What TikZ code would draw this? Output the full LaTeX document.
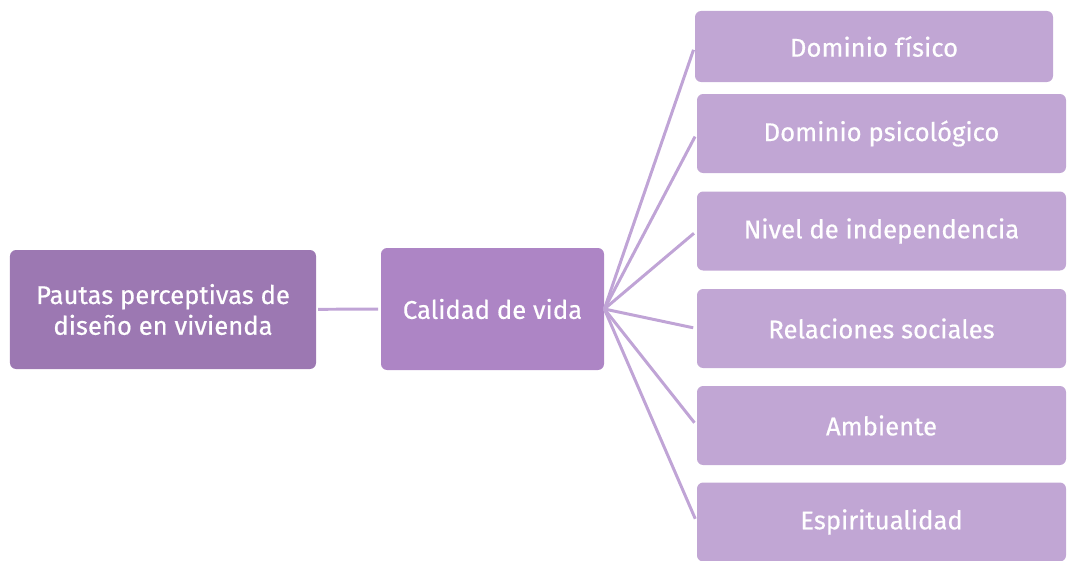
\documentclass[tikz,border=0pt]{standalone}
\usepackage{fontspec}
\setmainfont{Fira Sans}[FakeBold=0.5]
\definecolor{pautasfill}{HTML}{9C78B2}
\definecolor{calidadfill}{HTML}{AD85C5}
\definecolor{dominiofill}{HTML}{C1A6D4}
\definecolor{enlace}{HTML}{C0A4D6}

\begin{document}
\begin{tikzpicture}[
        box/.style={fill=#1, rounded corners=3.5pt, text=white, align=center, inner sep=0pt,
            font=\fontsize{14.6}{17.5}\selectfont},
        leaf/.style={box=dominiofill, minimum width=7.38cm, minimum height=1.58cm},
        link/.style={draw=enlace, line width=1.7pt}
    ]
                \useasboundingbox (0, 0) rectangle (21.4, -11.2);
                \node(pautas)  at(3.26, -6.19) [box=pautasfill, minimum width=6.12cm, minimum height=2.38cm] {Pautas perceptivas de\\diseño en vivienda};
                \node(calidad) at(9.85, -6.18) [box=calidadfill, minimum width=4.46cm, minimum height=2.44cm] {Calidad de vida};
                \node(fisico)      at(17.48, -0.93)  [leaf, minimum width=7.16cm, minimum height=1.42cm] {Dominio físico};
                \node(psicologico) at(17.63, -2.67)  [leaf] {Dominio psicológico};
                \node(nivel)       at(17.63, -4.62)  [leaf] {Nivel de independencia};
                \node(relaciones)  at(17.63, -6.57)  [leaf] {Relaciones sociales};
                \node(ambiente)    at(17.63, -8.51)  [leaf] {Ambiente};
                \node(espiritu)    at(17.63, -10.44) [leaf] {Espiritualidad};
                \draw[link, shorten <=1pt, shorten >=1.5pt] (pautas) -- (calidad);
                \foreach \leafname in {fisico, psicologico, nivel, relaciones, ambiente, espiritu}
                    \draw[link, shorten >=2pt] (calidad.east) -- (\leafname.west);
            \end{tikzpicture}
\end{document}
